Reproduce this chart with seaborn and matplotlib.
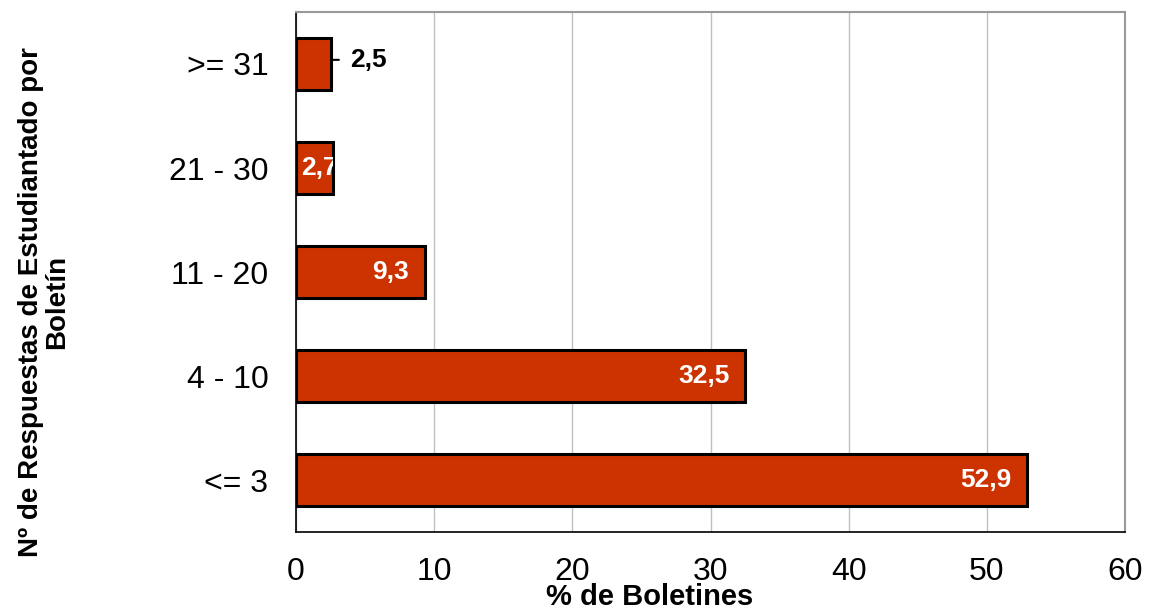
import matplotlib
matplotlib.use("Agg")
import matplotlib.pyplot as plt
import seaborn as sns
import pandas as pd
from matplotlib.ticker import MultipleLocator

categorias = [">= 31", "21 - 30", "11 - 20", "4 - 10", "<= 3"]
porcentajes = [2.5, 2.7, 9.3, 32.5, 52.9]
etiquetas = ["2,5", "2,7", "9,3", "32,5", "52,9"]

sns.set_style("white", rc={"text.color": "black", "xtick.color": "black",
                           "ytick.color": "black", "axes.labelcolor": "black"})
plt.rcParams["font.family"] = ["Liberation Sans", "DejaVu Sans"]

df = pd.DataFrame({"cat": categorias, "pct": porcentajes})

fig = plt.figure(figsize=(11.51, 6.09), dpi=100)
ax = fig.add_axes([0.2572, 0.1264, 0.9774 - 0.2572, 0.9803 - 0.1264])

sns.barplot(data=df, y="cat", x="pct", order=categorias, orient="h",
            color="#CC3300", saturation=1, edgecolor="black", linewidth=2.2,
            width=0.5, ax=ax)

ax.set_xlim(0, 60)
ax.set_ylim(len(categorias) - 0.5, -0.5)
ax.xaxis.set_major_locator(MultipleLocator(10))
ax.grid(axis="x", color="#C0C0C0", linewidth=1)
ax.set_axisbelow(True)

for side in ["top", "right"]:
    ax.spines[side].set_color("#999999")
    ax.spines[side].set_linewidth(1.5)
for side in ["left", "bottom"]:
    ax.spines[side].set_color("black")
    ax.spines[side].set_linewidth(1.2)

ax.tick_params(axis="x", direction="out", length=7, width=1, colors="black",
               labelsize=23, pad=11)
ax.tick_params(axis="y", which="major", length=0, labelsize=23, pad=20,
               labelcolor="black")
ax.set_yticks([i + 0.5 for i in range(-1, len(categorias))], minor=True)
ax.tick_params(axis="y", which="minor", direction="out", length=7, width=1,
               color="#808080")

ax.set_xlabel("")
ax.set_ylabel("")
fig.text(0.5645, 0.007, "% de Boletines", ha="center", va="baseline",
         fontsize=21, fontweight="bold")
fig.text(0.038, 0.504, "Nº de Respuestas de Estudiantado por\nBoletín",
         ha="center", va="center", rotation=90, fontsize=20,
         fontweight="bold", linespacing=1.0)

bars = ax.patches
for i, (v, t) in enumerate(zip(porcentajes, etiquetas)):
    if i == 0:
        ax.annotate("", xy=(v, i - 0.04), xytext=(v + 0.8, i - 0.04),
                    arrowprops=dict(arrowstyle="-", color="black", lw=1.5))
        ax.annotate(t, xy=(v + 1.4, i - 0.04), ha="left", va="center",
                    fontsize=19, fontweight="bold", color="black")
    elif v < 5:
        txt = ax.annotate(t, xy=(0, i), xytext=(4, 0), textcoords="offset points",
                          ha="left", va="center", fontsize=19,
                          fontweight="bold", color="white")
        txt.set_clip_path(bars[i])
    else:
        ax.annotate(t, xy=(v, i), xytext=(-11, 0), textcoords="offset points",
                    ha="right", va="center", fontsize=19, fontweight="bold",
                    color="white")

fig.savefig("out.png", dpi=100)
